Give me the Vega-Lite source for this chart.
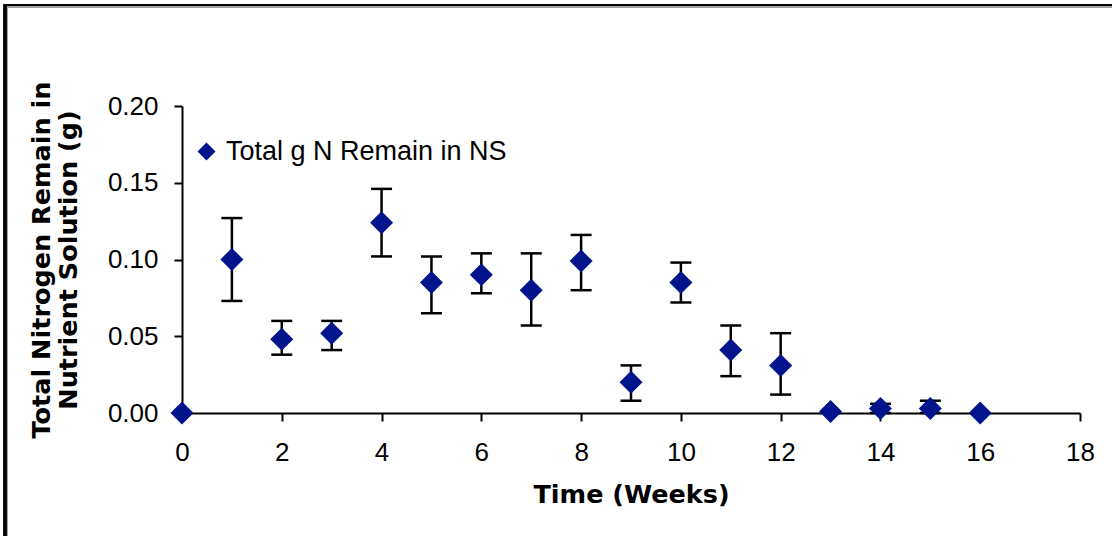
{
  "$schema": "https://vega.github.io/schema/vega-lite/v6.json",
  "autosize": {"type": "none"},
  "padding": {"left": 182, "top": 106, "right": 32, "bottom": 123},
  "width": 898,
  "height": 307,
  "background": "white",
  "config": {
    "view": {"stroke": null},
    "font": "Liberation Sans",
    "axis": {
      "grid": false,
      "labelFont": "Liberation Sans",
      "labelFontSize": 26,
      "labelColor": "black",
      "labelFlush": false,
      "titleFont": "DejaVu Sans",
      "titleFontSize": 25.5,
      "titleFontWeight": "bold",
      "titleColor": "black",
      "domainColor": "black",
      "domainWidth": 2,
      "tickColor": "black",
      "tickWidth": 2,
      "tickSize": 8
    }
  },
  "data": {
    "values": [
      {"week": 0, "n": 0.000, "lo": null, "hi": null},
      {"week": 1, "n": 0.100, "lo": 0.073, "hi": 0.127},
      {"week": 2, "n": 0.048, "lo": 0.038, "hi": 0.060},
      {"week": 3, "n": 0.052, "lo": 0.041, "hi": 0.060},
      {"week": 4, "n": 0.124, "lo": 0.102, "hi": 0.146},
      {"week": 5, "n": 0.085, "lo": 0.065, "hi": 0.102},
      {"week": 6, "n": 0.090, "lo": 0.078, "hi": 0.104},
      {"week": 7, "n": 0.080, "lo": 0.057, "hi": 0.104},
      {"week": 8, "n": 0.099, "lo": 0.080, "hi": 0.116},
      {"week": 9, "n": 0.020, "lo": 0.008, "hi": 0.031},
      {"week": 10, "n": 0.085, "lo": 0.072, "hi": 0.098},
      {"week": 11, "n": 0.041, "lo": 0.024, "hi": 0.057},
      {"week": 12, "n": 0.031, "lo": 0.012, "hi": 0.052},
      {"week": 13, "n": 0.001, "lo": null, "hi": null},
      {"week": 14, "n": 0.003, "lo": 0.000, "hi": 0.006},
      {"week": 15, "n": 0.003, "lo": 0.000, "hi": 0.008},
      {"week": 16, "n": 0.000, "lo": null, "hi": null}
    ]
  },
  "layer": [
    {
      "mark": {"type": "rect", "fill": null, "stroke": "#a0a0a0", "strokeWidth": 1.5},
      "encoding": {
        "x": {"datum": -3.508, "scale": {"domain": [0, 18], "nice": false}},
        "x2": {"datum": 18.8},
        "y": {"datum": 0.2645, "scale": {"domain": [0, 0.2], "nice": false}},
        "y2": {"datum": -0.086}
      }
    },
    {
      "mark": {"type": "rect", "fill": null, "stroke": "black", "strokeWidth": 2.2},
      "encoding": {
        "x": {"datum": -3.548, "scale": {"domain": [0, 18], "nice": false}},
        "x2": {"datum": 18.8},
        "y": {"datum": 0.2658, "scale": {"domain": [0, 0.2], "nice": false}},
        "y2": {"datum": -0.086}
      }
    },
    {
      "mark": {"type": "rule", "color": "black", "strokeWidth": 2.5},
      "encoding": {
        "x": {"field": "week", "type": "quantitative"},
        "y": {"field": "lo", "type": "quantitative"},
        "y2": {"field": "hi"}
      }
    },
    {
      "mark": {"type": "tick", "orient": "horizontal", "color": "black", "size": 21, "thickness": 2.5, "opacity": 1},
      "encoding": {
        "x": {"field": "week", "type": "quantitative"},
        "y": {"field": "lo", "type": "quantitative"}
      }
    },
    {
      "mark": {"type": "tick", "orient": "horizontal", "color": "black", "size": 21, "thickness": 2.5, "opacity": 1},
      "encoding": {
        "x": {"field": "week", "type": "quantitative"},
        "y": {"field": "hi", "type": "quantitative"}
      }
    },
    {
      "mark": {"type": "point", "shape": "diamond", "filled": true, "size": 530, "opacity": 1, "strokeWidth": 0},
      "encoding": {
        "x": {
          "field": "week",
          "type": "quantitative",
          "scale": {"domain": [0, 18], "nice": false},
          "axis": {
            "title": "Time (Weeks)",
            "values": [0, 2, 4, 6, 8, 10, 12, 14, 16, 18],
            "labelPadding": 18,
            "titlePadding": 17
          }
        },
        "y": {
          "field": "n",
          "type": "quantitative",
          "scale": {"domain": [0, 0.2], "nice": false},
          "axis": {
            "title": ["Total Nitrogen Remain in", "Nutrient Solution (g)"],
            "titleLineHeight": 27,
            "values": [0, 0.05, 0.1, 0.15, 0.2],
            "format": ".2f",
            "labelPadding": 16,
            "titlePadding": 26
          }
        },
        "color": {
          "datum": "Total g N Remain in NS",
          "type": "nominal",
          "scale": {"range": ["#02148C"]},
          "legend": {
            "title": null,
            "orient": "none",
            "legendX": 11,
            "legendY": 32,
            "padding": 0,
            "symbolType": "diamond",
            "symbolSize": 324,
            "symbolStrokeWidth": 0,
            "labelFont": "Liberation Sans",
            "labelFontSize": 27,
            "labelColor": "black",
            "labelOffset": 6,
            "labelLimit": 0
          }
        }
      }
    }
  ]
}
